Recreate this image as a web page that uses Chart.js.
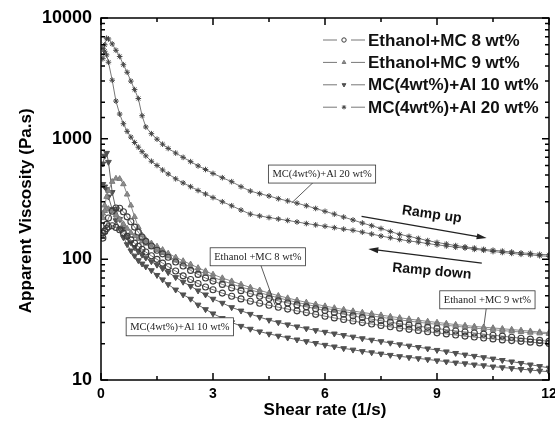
<!DOCTYPE html>
<html>
<head>
<meta charset="utf-8">
<script src="https://cdn.jsdelivr.net/npm/chart.js@4.4.0/dist/chart.umd.min.js"></script>
<style>
  html, body { margin: 0; padding: 0; background: #fff; }
</style>
</head>
<body>
<canvas id="myChart" width="555" height="432"></canvas>
<script>
// shear rate points (1/s), same for ramp up and ramp down
var shearRate = [0.05, 0.1, 0.15, 0.2, 0.3, 0.4, 0.5, 0.6, 0.7, 0.8, 0.9, 1.0,
                 1.1, 1.2, 1.35, 1.5, 1.65, 1.8,
                 2.0, 2.2, 2.4, 2.6, 2.8, 3.0,
                 3.25, 3.5, 3.75, 4.0, 4.25, 4.5, 4.75, 5.0, 5.25, 5.5, 5.75, 6.0,
                 6.25, 6.5, 6.75, 7.0, 7.25, 7.5, 7.75, 8.0, 8.25, 8.5, 8.75, 9.0,
                 9.25, 9.5, 9.75, 10.0, 10.25, 10.5, 10.75, 11.0, 11.25, 11.5, 11.75, 12.0];

// apparent viscosity (Pa.s)
var eth8Up = [150, 170, 195, 220, 250, 266, 265, 248, 225, 205, 185, 168,
              153, 141, 129, 119, 111, 104,
              95, 88, 81, 75, 70, 66,
              62, 58, 55, 52, 49.5, 47.3, 45.3, 43.5, 41.9, 40.4, 39, 37.6,
              36.3, 35.1, 34, 32.9, 31.9, 31, 30.1, 29.3, 28.6, 27.9, 27.3, 26.7,
              26.1, 25.5, 25, 24.5, 24, 23.5, 23.1, 22.6, 22.2, 21.8, 21.3, 20.9];
var eth8Down = [165, 172, 180, 186, 190, 184, 176, 165, 155, 145, 136, 128,
                121, 115, 107, 100, 93, 87,
                80, 73, 68, 63, 59, 56,
                52.5, 49.5, 47, 45, 43.2, 41.6, 40.1, 38.7, 37.4, 36.2, 35, 33.8,
                32.7, 31.7, 30.8, 29.9, 29.1, 28.3, 27.6, 26.9, 26.3, 25.7, 25.1, 24.6,
                24.1, 23.6, 23.1, 22.7, 22.3, 21.9, 21.5, 21.2, 20.9, 20.6, 20.3, 20.1];
var eth9Up = [220, 280, 330, 370, 440, 468, 465, 420, 345, 280, 225, 185,
              158, 145, 136, 128, 120, 112,
              104, 97, 91, 85, 80, 75,
              70, 66, 62, 58.5, 55.5, 52.5, 50, 47.8, 45.8, 44, 42.5, 41,
              39.6, 38.4, 37.3, 36.3, 35.4, 34.5, 33.6, 32.8, 32, 31.3, 30.6, 30,
              29.4, 28.8, 28.3, 27.8, 27.4, 27, 26.6, 26.2, 25.8, 25.4, 25, 24.7];
var eth9Down = [240, 252, 260, 262, 250, 232, 215, 196, 180, 166, 156, 148,
                141, 135, 127, 120, 113, 106,
                98, 92, 86, 80, 76, 71,
                66.5, 62.5, 59, 56, 53, 50.3, 48, 45.9, 44, 42.3, 40.8, 39.4,
                38.1, 36.9, 35.9, 34.9, 34, 33.1, 32.3, 31.5, 30.8, 30.1, 29.5, 28.9,
                28.4, 27.9, 27.4, 26.9, 26.5, 26.1, 25.7, 25.3, 25, 24.7, 24.4, 24.1];
var al10Up = [620, 720, 760, 640, 360, 260, 215, 180, 155, 138, 126, 116,
              109, 103, 96, 90, 84, 78,
              71, 65, 60, 55, 51, 47,
              43.5, 40, 37.5, 35.2, 33.2, 31.4, 30, 28.8, 27.7, 26.7, 25.8, 25,
              24.2, 23.5, 22.8, 22.1, 21.5, 20.9, 20.3, 19.7, 19.2, 18.7, 18.2, 17.7,
              17.2, 16.7, 16.2, 15.8, 15.4, 15, 14.6, 14.2, 13.8, 13.4, 13, 12.6];
var al10Down = [420, 400, 380, 330, 260, 210, 180, 152, 133, 118, 107, 98,
                92, 87, 81, 74, 68, 62,
                56, 51, 47, 42, 38.5, 35.5,
                32.5, 30, 28, 26.5, 25.2, 24.1, 23.2, 22.4, 21.6, 20.9, 20.2, 19.5,
                18.9, 18.3, 17.8, 17.3, 16.9, 16.5, 16.1, 15.7, 15.4, 15.1, 14.8, 14.5,
                14.2, 13.9, 13.7, 13.4, 13.2, 12.9, 12.7, 12.5, 12.3, 12.1, 11.9, 11.7];
var al20Up = [4600, 6000, 6800, 6700, 6100, 5400, 4800, 4100, 3550, 3000, 2550, 2150,
              1550, 1250, 1100, 990, 900, 830,
              760, 700, 645, 595, 555, 515,
              475, 440, 400, 368, 350, 335, 318, 305, 292, 278, 264, 250,
              237, 224, 212, 200, 190, 180, 170, 161, 155, 149, 143, 138,
              134, 130, 127, 124, 121, 119, 117, 115, 113, 112, 110, 109];
var al20Down = [5600, 5300, 4950, 4300, 3050, 2050, 1600, 1330, 1150, 1030, 930, 850,
                780, 720, 650, 600, 550, 510,
                465, 430, 400, 372, 348, 325,
                300, 278, 256, 237, 229, 222, 216, 210, 204, 198, 193, 188,
                183, 178, 174, 168, 162, 156, 151, 146, 142, 139, 135, 132,
                129, 126, 124, 121, 119, 116, 114, 112, 110, 109, 107, 106];

var seriesNames = ["Ethanol+MC 8 wt%", "Ethanol+MC 9 wt%", "MC(4wt%)+Al 10 wt%", "MC(4wt%)+Al 20 wt%"];

// boxed labels: text, box centre [x, y], leader end [x, y] in data units
var notes = [
  { text: "MC(4wt%)+Al 20 wt%", at: [5.92, 509], to: [5.11, 294] },
  { text: "Ethanol +MC 8 wt%", at: [4.2, 105], to: [4.66, 42] },
  { text: "Ethanol +MC 9 wt%", at: [10.35, 46.2], to: [10.26, 28.6] },
  { text: "MC(4wt%)+Al 10 wt%", at: [2.11, 27.6], to: [3.23, 31.5] }
];
// ramp arrows, data units
var ramps = [
  { text: "Ramp up", at: [8.86, 235], from: [6.98, 227], to: [10.33, 150], angle: 8 },
  { text: "Ramp down", at: [8.86, 79.5], from: [10.2, 93], to: [7.16, 122], angle: 5 }
];

// ramp up then back down as one loop
function loop(up, down) {
  var pts = [];
  for (var i = 0; i < shearRate.length; i++) pts.push({ x: shearRate[i], y: up[i] });
  for (var j = shearRate.length - 1; j >= 0; j--) pts.push({ x: shearRate[j], y: down[j] });
  return pts;
}

Chart.defaults.font.family = "'Liberation Sans', Arial, sans-serif";
Chart.defaults.color = "#000";

function isDecade(v) {
  var l = Math.log10(v);
  return Math.abs(l - Math.round(l)) < 1e-6;
}

// box frame and inward ticks on all four sides
var frameTicks = {
  id: "frameTicks",
  afterDatasetsDraw: function (chart) {
    var ctx = chart.ctx, a = chart.chartArea;
    var xs = chart.scales.x, ys = chart.scales.y;
    ctx.save();
    ctx.strokeStyle = "#000";
    ctx.lineWidth = 1.5;
    ctx.strokeRect(a.left, a.top, a.right - a.left, a.bottom - a.top);
    ctx.beginPath();
    xs.ticks.forEach(function (t) {
      var px = xs.getPixelForValue(t.value);
      var len = t.value % 3 === 0 ? 7 : 4;
      ctx.moveTo(px, a.bottom); ctx.lineTo(px, a.bottom - len);
      ctx.moveTo(px, a.top); ctx.lineTo(px, a.top + len);
    });
    ys.ticks.forEach(function (t) {
      var py = ys.getPixelForValue(t.value);
      var len = isDecade(t.value) ? 7 : 4;
      ctx.moveTo(a.left, py); ctx.lineTo(a.left + len, py);
      ctx.moveTo(a.right, py); ctx.lineTo(a.right - len, py);
    });
    ctx.stroke();
    ctx.restore();
  }
};

// legend in the top right corner: line - marker - line, then bold text
var cornerLegend = {
  id: "cornerLegend",
  afterDraw: function (chart) {
    var ctx = chart.ctx, a = chart.chartArea;
    ctx.save();
    chart.data.datasets.forEach(function (ds, i) {
      var y = a.top + 22 + i * 22.4;
      var x0 = a.right - 226;
      ctx.strokeStyle = "#777";
      ctx.lineWidth = 1;
      ctx.beginPath();
      ctx.moveTo(x0, y); ctx.lineTo(x0 + 14, y);
      ctx.moveTo(x0 + 28, y); ctx.lineTo(x0 + 42, y);
      ctx.stroke();
      ctx.fillStyle = ds.pointBackgroundColor;
      ctx.strokeStyle = ds.pointBorderColor;
      Chart.helpers.drawPoint(ctx, {
        pointStyle: ds.pointStyle, rotation: ds.pointRotation || 0,
        radius: 2.2, borderWidth: 1
      }, x0 + 21, y);
      ctx.fillStyle = "#111";
      ctx.font = "bold 17px 'Liberation Sans', Arial, sans-serif";
      ctx.textBaseline = "middle";
      ctx.textAlign = "left";
      ctx.fillText(ds.label, x0 + 45, y + 1);
    });
    ctx.restore();
  }
};

// boxed serif labels with leader lines, and the ramp arrows
var notesPlugin = {
  id: "notesPlugin",
  afterDatasetsDraw: function (chart) {
    var ctx = chart.ctx;
    var xs = chart.scales.x, ys = chart.scales.y;
    ctx.save();
    ctx.font = "10.5px 'Liberation Serif', 'Times New Roman', serif";
    ctx.textAlign = "center";
    ctx.textBaseline = "middle";
    notes.forEach(function (n) {
      var cx = xs.getPixelForValue(n.at[0]), cy = ys.getPixelForValue(n.at[1]);
      var tx = xs.getPixelForValue(n.to[0]), ty = ys.getPixelForValue(n.to[1]);
      var w = ctx.measureText(n.text).width + 8, h = 18;
      ctx.strokeStyle = "#333";
      ctx.lineWidth = 0.8;
      ctx.beginPath();
      ctx.moveTo(cx, cy); ctx.lineTo(tx, ty);
      ctx.stroke();
      ctx.fillStyle = "#fff";
      ctx.fillRect(cx - w / 2, cy - h / 2, w, h);
      ctx.strokeRect(cx - w / 2, cy - h / 2, w, h);
      ctx.fillStyle = "#222";
      ctx.fillText(n.text, cx, cy + 0.5);
    });

    ramps.forEach(function (r) {
      var x1 = xs.getPixelForValue(r.from[0]), y1 = ys.getPixelForValue(r.from[1]);
      var x2 = xs.getPixelForValue(r.to[0]), y2 = ys.getPixelForValue(r.to[1]);
      var ang = Math.atan2(y2 - y1, x2 - x1);
      ctx.strokeStyle = "#222";
      ctx.fillStyle = "#222";
      ctx.lineWidth = 1.2;
      ctx.beginPath();
      ctx.moveTo(x1, y1); ctx.lineTo(x2 - 6 * Math.cos(ang), y2 - 6 * Math.sin(ang));
      ctx.stroke();
      ctx.beginPath();
      ctx.moveTo(x2, y2);
      ctx.lineTo(x2 - 10 * Math.cos(ang) + 3 * Math.sin(ang), y2 - 10 * Math.sin(ang) - 3 * Math.cos(ang));
      ctx.lineTo(x2 - 10 * Math.cos(ang) - 3 * Math.sin(ang), y2 - 10 * Math.sin(ang) + 3 * Math.cos(ang));
      ctx.closePath();
      ctx.fill();

      ctx.save();
      ctx.translate(xs.getPixelForValue(r.at[0]), ys.getPixelForValue(r.at[1]));
      ctx.rotate(r.angle * Math.PI / 180);
      ctx.font = "bold 14px 'Liberation Sans', Arial, sans-serif";
      ctx.fillStyle = "#111";
      ctx.fillText(r.text, 0, 0);
      ctx.restore();
    });
    ctx.restore();
  }
};

var data = {
  datasets: [
    {
      label: seriesNames[0],
      data: loop(eth8Up, eth8Down),
      borderColor: "#7a7a7a",
      borderWidth: 1,
      pointStyle: "circle",
      pointRadius: 3,
      pointBackgroundColor: "rgba(255,255,255,0)",
      pointBorderColor: "#3c3c3c",
      pointBorderWidth: 1.1
    },
    {
      label: seriesNames[1],
      data: loop(eth9Up, eth9Down),
      borderColor: "#8a8a8a",
      borderWidth: 1,
      pointStyle: "triangle",
      pointRadius: 3.2,
      pointBackgroundColor: "#8c8c8c",
      pointBorderColor: "#7a7a7a",
      pointBorderWidth: 1
    },
    {
      label: seriesNames[2],
      data: loop(al10Up, al10Down),
      borderColor: "#666",
      borderWidth: 1,
      pointStyle: "triangle",
      pointRotation: 180,
      pointRadius: 3.3,
      pointBackgroundColor: "#505050",
      pointBorderColor: "#505050",
      pointBorderWidth: 1
    },
    {
      label: seriesNames[3],
      data: loop(al20Up, al20Down),
      borderColor: "#777",
      borderWidth: 1,
      pointStyle: "star",
      pointRadius: 2.8,
      pointBackgroundColor: "#444",
      pointBorderColor: "#444",
      pointBorderWidth: 1
    }
  ]
};

var config = {
  type: "scatter",
  data: data,
  options: {
    responsive: false,
    animation: false,
    showLine: true,
    layout: { padding: { top: 18, right: 6, bottom: 0, left: 0 } },
    elements: { line: { tension: 0 } },
    scales: {
      x: {
        type: "linear",
        min: 0,
        max: 12,
        grid: { display: false, drawTicks: false },
        border: { display: false },
        ticks: {
          stepSize: 1.5,
          autoSkip: false,
          maxRotation: 0,
          padding: 6,
          font: { size: 14, weight: "bold" },
          callback: function (v) { return v % 3 === 0 ? String(v) : ""; }
        },
        title: {
          display: true,
          text: "Shear rate (1/s)",
          font: { size: 17, weight: "bold" },
          padding: { top: 0, bottom: 11 }
        },
        afterFit: function (scale) {
          scale.height = 52;
          scale.paddingLeft = 0;
          scale.paddingRight = 0;
        }
      },
      y: {
        type: "logarithmic",
        min: 10,
        max: 10000,
        grid: { display: false, drawTicks: false },
        border: { display: false },
        ticks: {
          autoSkip: false,
          padding: 9,
          font: { size: 18, weight: "bold" },
          callback: function (v) { return isDecade(v) ? String(v) : ""; }
        },
        title: {
          display: true,
          text: "Apparent Viscosity (Pa.s)     ",
          font: { size: 17, weight: "bold" },
          padding: { top: 16, bottom: 0 }
        },
        afterFit: function (scale) {
          scale.width = 101;
          scale.paddingTop = 0;
          scale.paddingBottom = 0;
        }
      }
    },
    plugins: {
      legend: { display: false },
      tooltip: { enabled: false }
    }
  },
  plugins: [notesPlugin, frameTicks, cornerLegend]
};

var ctx = document.getElementById("myChart").getContext("2d");
var myChart = new Chart(ctx, config);
</script>
</body>
</html>
